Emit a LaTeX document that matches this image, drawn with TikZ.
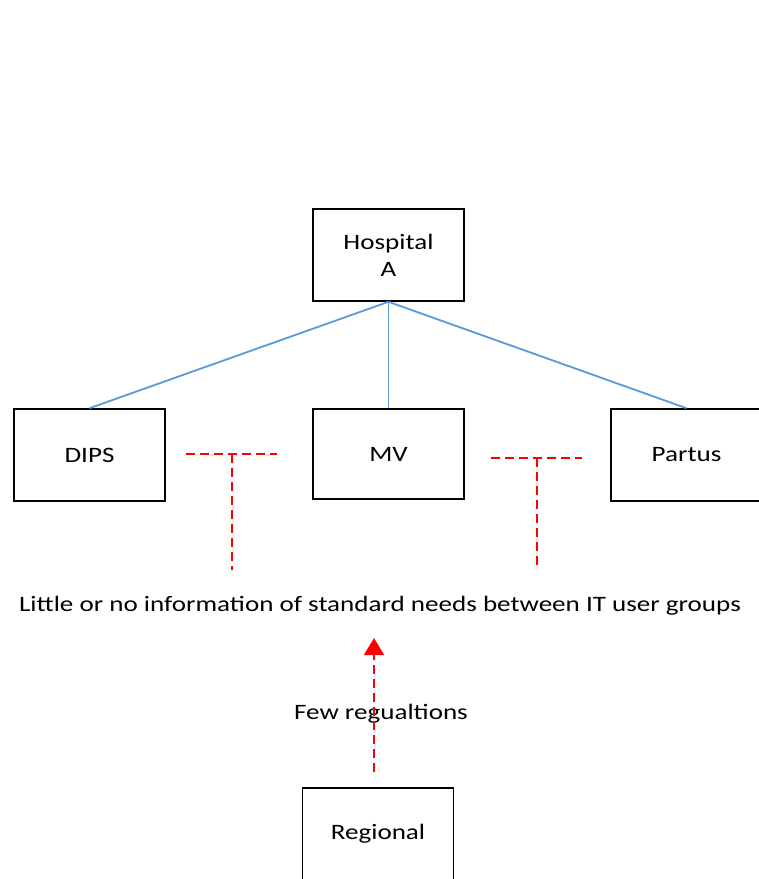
\documentclass[tikz,border=0pt]{standalone}
\usepackage{fontspec}
\setmainfont{Carlito}[FakeStretch=1.23]
\usetikzlibrary{arrows.meta}
\definecolor{linkblue}{HTML}{5B9BD5}
\begin{document}
\begin{tikzpicture}[x=1pt,y=-1pt,
  box/.style={draw,line width=1.6pt,minimum width=151pt,minimum height=92pt,inner sep=0pt,
    font=\fontsize{22}{27}\selectfont,align=center},
  link/.style={draw=linkblue,line width=1.8pt},
  gap/.style={draw=red,line width=1.5pt,dash pattern=on 9pt off 5pt},
  lbl/.style={font=\fontsize{22}{27}\selectfont,inner sep=0pt,anchor=base}]
\useasboundingbox (0,0) rectangle (759,879);
\node[box] (hosp) at (388.5,255) {Hospital\\A};
\node[box] (dips) at (89.5,455) {DIPS};
\node[box,minimum height=90pt] (mv) at (388.5,454) {MV};
\node[box] (partus) at (686.5,455) {Partus};
\node[box] (regional) at (378,834) {Regional};
\node[lbl] (info) at (380,611) {Little or no information of standard needs between IT user groups};
\node[lbl] (few) at (381,719) {Few regualtions};
\draw[link] (hosp.south) -- (dips.north);
\draw[link] (hosp.south) -- (mv.north);
\draw[link] (hosp.south) -- (partus.north);
\coordinate (l1) at (186,454);
\coordinate (l2) at (277,454);
\coordinate (l3) at (232,454);
\coordinate (l4) at (232,570);
\coordinate (r1) at (491,458);
\coordinate (r2) at (582,458);
\coordinate (r3) at (537,458);
\coordinate (r4) at (537,570);
\draw[gap] (l1) -- (l2);
\draw[gap] (l3) -- (l4);
\draw[gap] (r1) -- (r2);
\draw[gap] (r3) -- (r4);
\coordinate (arrS) at (374,772);
\coordinate (arrE) at (374,638);
\draw[gap,-{Triangle[width=20pt,length=17pt]}] (arrS) -- (arrE);
\end{tikzpicture}
\end{document}
